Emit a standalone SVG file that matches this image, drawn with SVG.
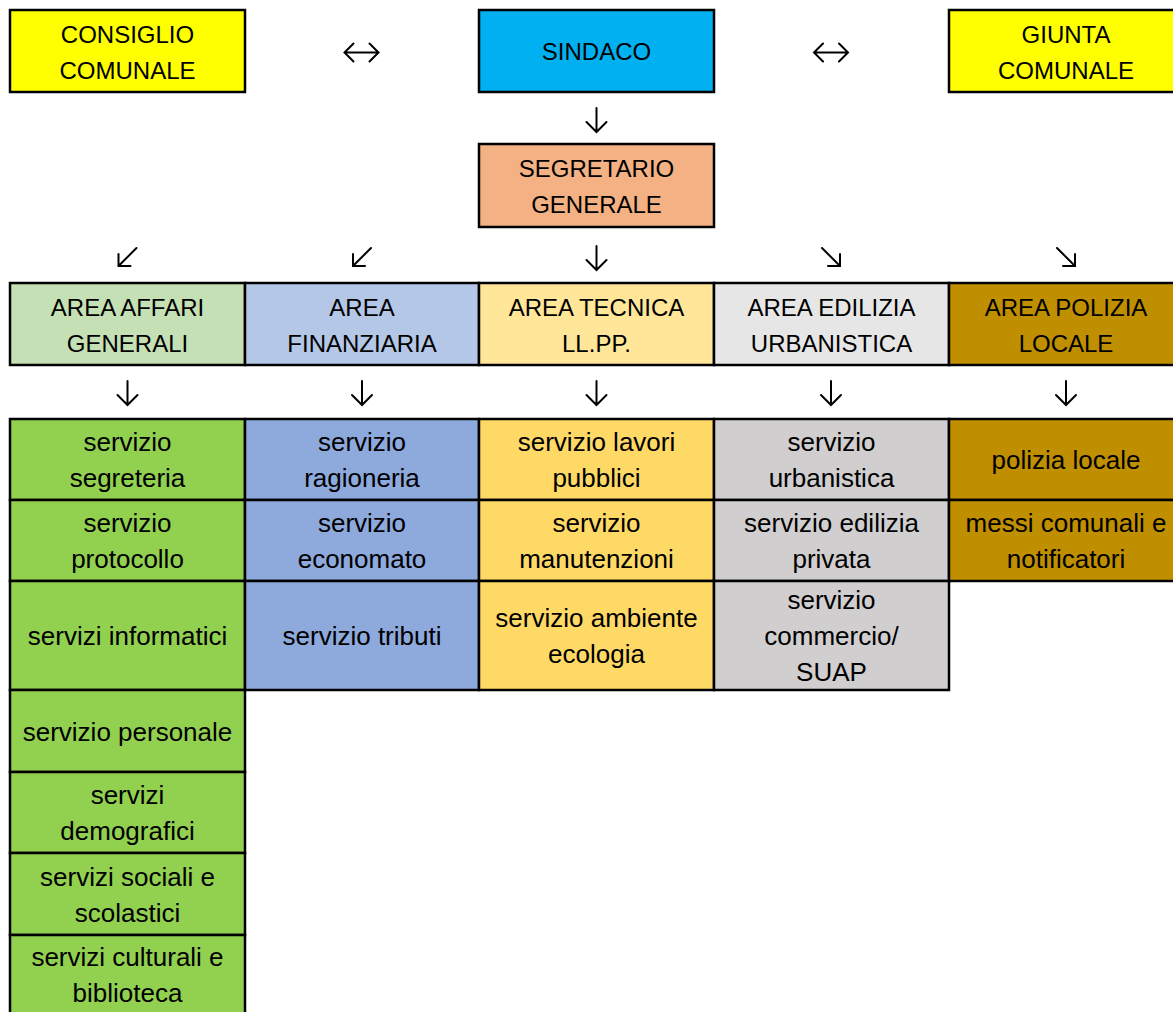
<svg xmlns="http://www.w3.org/2000/svg" width="1173" height="1012" viewBox="0 0 1173 1012">
<style>
  .box { stroke: #000; stroke-width: 2.5; }
  .up { font-family: "Liberation Sans", Arial, sans-serif; font-size: 24px; fill: #000; text-anchor: middle; }
  .lo { font-family: "Liberation Sans", Arial, sans-serif; font-size: 26px; fill: #000; text-anchor: middle; }
  .arr { fill: none; stroke: #000; stroke-width: 2; stroke-linecap: round; stroke-linejoin: miter; }
  .yellow { fill: #FFFF00; } .blue { fill: #00B0F0; } .orange { fill: #F4B183; }
  .ag { fill: #C5E0B4; } .af { fill: #B4C7E7; } .at { fill: #FFE699; } .ae { fill: #E7E6E6; } .ap { fill: #BF8F00; }
  .sg { fill: #92D050; } .sf { fill: #8EA9DB; } .st { fill: #FFD966; } .se { fill: #D0CECE; } .sp { fill: #BF8F00; }
</style>
<defs>
  <g id="a-down"><path d="M0,-12 L0,12 M-10,2 L0,12 L10,2"/></g>
  <g id="a-lr"><path d="M-17,0 L17,0 M-8,-9 L-17,0 L-8,9 M8,-9 L17,0 L8,9"/></g>
  <g id="a-dl"><path d="M9,-9 L-9,9 M-9,-3 L-9,9 L3,9"/></g>
  <g id="a-dr"><path d="M-9,-9 L9,9 M9,-3 L9,9 L-3,9"/></g>
</defs>
<rect width="1173" height="1012" fill="#fff"/>

<g id="consiglio"><rect class="box yellow" x="10" y="10" width="235" height="82"/><text class="up" x="127.5" y="43">CONSIGLIO</text><text class="up" x="127.5" y="79">COMUNALE</text></g>
<g id="sindaco"><rect class="box blue" x="479" y="10" width="235" height="82"/><text class="up" x="596.5" y="60">SINDACO</text></g>
<g id="giunta"><rect class="box yellow" x="949" y="10" width="240" height="82"/><text class="up" x="1066" y="43">GIUNTA</text><text class="up" x="1066" y="79">COMUNALE</text></g>
<g id="segretario"><rect class="box orange" x="479" y="144" width="235" height="83"/><text class="up" x="596.5" y="177">SEGRETARIO</text><text class="up" x="596.5" y="213">GENERALE</text></g>

<g id="area-affari"><rect class="box ag" x="10" y="283" width="235" height="82"/><text class="up" x="127.5" y="316">AREA AFFARI</text><text class="up" x="127.5" y="352">GENERALI</text></g>
<g id="area-finanziaria"><rect class="box af" x="245" y="283" width="234" height="82"/><text class="up" x="362" y="316">AREA</text><text class="up" x="362" y="352">FINANZIARIA</text></g>
<g id="area-tecnica"><rect class="box at" x="479" y="283" width="235" height="82"/><text class="up" x="596.5" y="316">AREA TECNICA</text><text class="up" x="596.5" y="352">LL.PP.</text></g>
<g id="area-edilizia"><rect class="box ae" x="714" y="283" width="235" height="82"/><text class="up" x="831.5" y="316">AREA EDILIZIA</text><text class="up" x="831.5" y="352">URBANISTICA</text></g>
<g id="area-polizia"><rect class="box ap" x="949" y="283" width="240" height="82"/><text class="up" x="1066" y="316">AREA POLIZIA</text><text class="up" x="1066" y="352">LOCALE</text></g>

<g id="s-segreteria"><rect class="box sg" x="10" y="419" width="235" height="81"/><text class="lo" x="127.5" y="451">servizio</text><text class="lo" x="127.5" y="487">segreteria</text></g>
<g id="s-protocollo"><rect class="box sg" x="10" y="500" width="235" height="81"/><text class="lo" x="127.5" y="532">servizio</text><text class="lo" x="127.5" y="568">protocollo</text></g>
<g id="s-informatici"><rect class="box sg" x="10" y="581" width="235" height="109"/><text class="lo" x="127.5" y="644.5">servizi informatici</text></g>
<g id="s-personale"><rect class="box sg" x="10" y="690" width="235" height="82"/><text class="lo" x="127.5" y="740.5">servizio personale</text></g>
<g id="s-demografici"><rect class="box sg" x="10" y="772" width="235" height="81"/><text class="lo" x="127.5" y="804">servizi</text><text class="lo" x="127.5" y="840">demografici</text></g>
<g id="s-sociali"><rect class="box sg" x="10" y="853" width="235" height="82"/><text class="lo" x="127.5" y="885.5">servizi sociali e</text><text class="lo" x="127.5" y="921.5">scolastici</text></g>
<g id="s-culturali"><rect class="box sg" x="10" y="935" width="235" height="90"/><text class="lo" x="127.5" y="966">servizi culturali e</text><text class="lo" x="127.5" y="1002">biblioteca</text></g>

<g id="s-ragioneria"><rect class="box sf" x="245" y="419" width="234" height="81"/><text class="lo" x="362" y="451">servizio</text><text class="lo" x="362" y="487">ragioneria</text></g>
<g id="s-economato"><rect class="box sf" x="245" y="500" width="234" height="81"/><text class="lo" x="362" y="532">servizio</text><text class="lo" x="362" y="568">economato</text></g>
<g id="s-tributi"><rect class="box sf" x="245" y="581" width="234" height="109"/><text class="lo" x="362" y="644.5">servizio tributi</text></g>

<g id="s-lavori"><rect class="box st" x="479" y="419" width="235" height="81"/><text class="lo" x="596.5" y="451">servizio lavori</text><text class="lo" x="596.5" y="487">pubblici</text></g>
<g id="s-manutenzioni"><rect class="box st" x="479" y="500" width="235" height="81"/><text class="lo" x="596.5" y="532">servizio</text><text class="lo" x="596.5" y="568">manutenzioni</text></g>
<g id="s-ambiente"><rect class="box st" x="479" y="581" width="235" height="109"/><text class="lo" x="596.5" y="626.5">servizio ambiente</text><text class="lo" x="596.5" y="662.5">ecologia</text></g>

<g id="s-urbanistica"><rect class="box se" x="714" y="419" width="235" height="81"/><text class="lo" x="831.5" y="451">servizio</text><text class="lo" x="831.5" y="487">urbanistica</text></g>
<g id="s-edilizia"><rect class="box se" x="714" y="500" width="235" height="81"/><text class="lo" x="831.5" y="532">servizio edilizia</text><text class="lo" x="831.5" y="568">privata</text></g>
<g id="s-commercio"><rect class="box se" x="714" y="581" width="235" height="109"/><text class="lo" x="831.5" y="609">servizio</text><text class="lo" x="831.5" y="645">commercio/</text><text class="lo" x="831.5" y="681">SUAP</text></g>

<g id="s-polizia"><rect class="box sp" x="949" y="419" width="240" height="81"/><text class="lo" x="1066" y="469">polizia locale</text></g>
<g id="s-messi"><rect class="box sp" x="949" y="500" width="240" height="81"/><text class="lo" x="1066" y="532">messi comunali e</text><text class="lo" x="1066" y="568">notificatori</text></g>

<g id="connectors" class="arr">
  <use href="#a-lr" x="361.5" y="52.5"/>
  <use href="#a-lr" x="831" y="52.5"/>
  <use href="#a-down" x="596.5" y="120"/>
  <use href="#a-dl" x="127.5" y="257"/>
  <use href="#a-dl" x="362" y="257"/>
  <use href="#a-down" x="596.5" y="258"/>
  <use href="#a-dr" x="831" y="257"/>
  <use href="#a-dr" x="1066" y="257"/>
  <use href="#a-down" x="127.5" y="393"/>
  <use href="#a-down" x="362" y="393"/>
  <use href="#a-down" x="596.5" y="393"/>
  <use href="#a-down" x="831" y="393"/>
  <use href="#a-down" x="1066" y="393"/>
</g>
</svg>
